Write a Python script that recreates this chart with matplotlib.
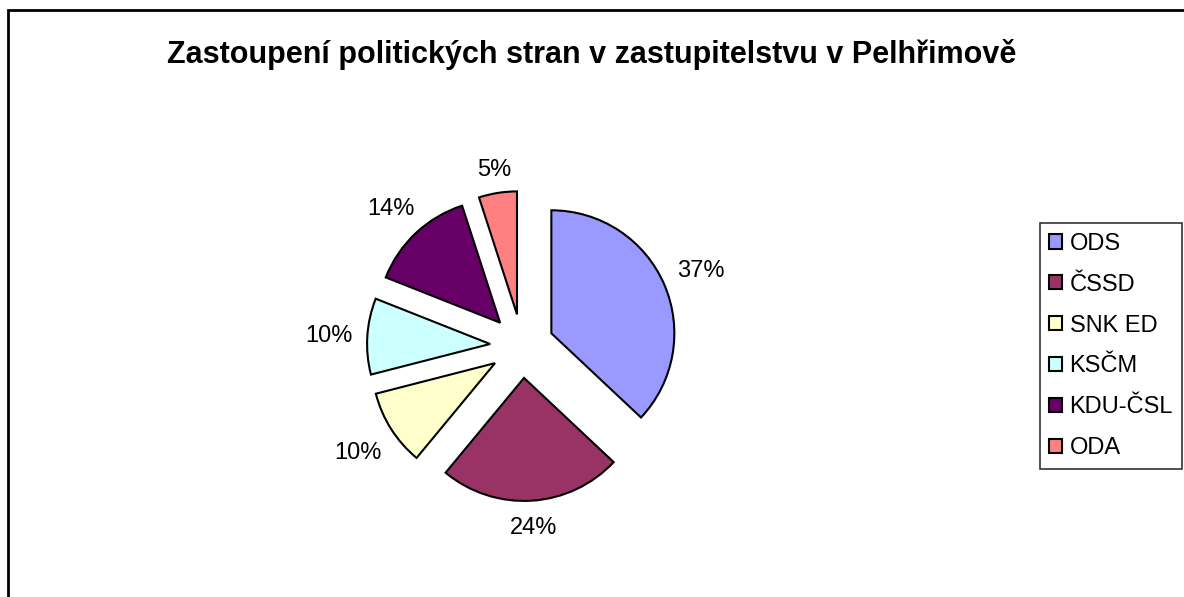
import numpy as np
import matplotlib.pyplot as plt
from matplotlib.patches import Rectangle

plt.rcParams['font.family'] = ['Liberation Sans', 'DejaVu Sans']

strany = ["ODS", "ČSSD", "SNK ED", "KSČM", "KDU-ČSL", "ODA"]
podil = [37, 24, 10, 10, 14, 5]
barvy = ["#9999FF", "#993366", "#FFFFCC", "#CCFFFF", "#660066", "#FF8080"]

fig = plt.figure(figsize=(11.84, 5.97), dpi=100)
W, H = 1184, 597

# ramecek kolem celeho grafu
fig.patches.append(Rectangle((8 / W, -0.1), 1.2, (H - 10) / H + 0.1,
                             transform=fig.transFigure, fill=False,
                             edgecolor="black", linewidth=2))

cx, cy, r = 522, 346, 123
ax = fig.add_axes([(cx - 2 * r) / W, (H - cy - 2 * r) / H, 4 * r / W, 4 * r / H])
wedges, texts = ax.pie(podil, colors=barvy, startangle=90, counterclock=False,
                       explode=[0.26] * len(podil), radius=1,
                       labels=[f"{p}%" for p in podil], labeldistance=1.12,
                       wedgeprops=dict(edgecolor="black", linewidth=1.5),
                       textprops=dict(fontsize=17))
ax.set_xlim(-2, 2)
ax.set_ylim(-2, 2)
ax.set_aspect("equal")
ax.axis("off")

# popisky posunout ven, aby okraj textu lezel na kruznici (jako v Excelu)
for t in texts:
    t.set_horizontalalignment("center")
    t.set_verticalalignment("center_baseline")
fig.canvas.draw()
px_per_unit = ax.transData.transform((1, 0))[0] - ax.transData.transform((0, 0))[0]
for w, t in zip(wedges, texts):
    bb = t.get_window_extent(fig.canvas.get_renderer())
    hw, hh = bb.width / 2, bb.height / 2 * 0.75
    ang = np.deg2rad((w.theta1 + w.theta2) / 2)
    c, s = np.cos(ang), np.sin(ang)
    d = (abs(c) * hw + abs(s) * hh) / px_per_unit
    x, y = t.get_position()
    t.set_position((x + c * d, y + s * d))

fig.text(0.5, (H - 55) / H, "Zastoupení politických stran v zastupitelstvu v Pelhřimově",
         ha="center", va="center", fontsize=22, fontweight="bold")

leg = fig.legend(wedges, strany, loc="center left",
                 bbox_to_anchor=(1040 / W, (H - 346) / H),
                 fontsize=17, frameon=True, fancybox=False,
                 handlelength=0.55, handleheight=0.55, handletextpad=0.3,
                 labelspacing=0.8, borderpad=0.4, borderaxespad=0)
leg.get_frame().set_edgecolor("black")
leg.get_frame().set_linewidth(1.2)

fig.savefig("out.png", dpi=100)
